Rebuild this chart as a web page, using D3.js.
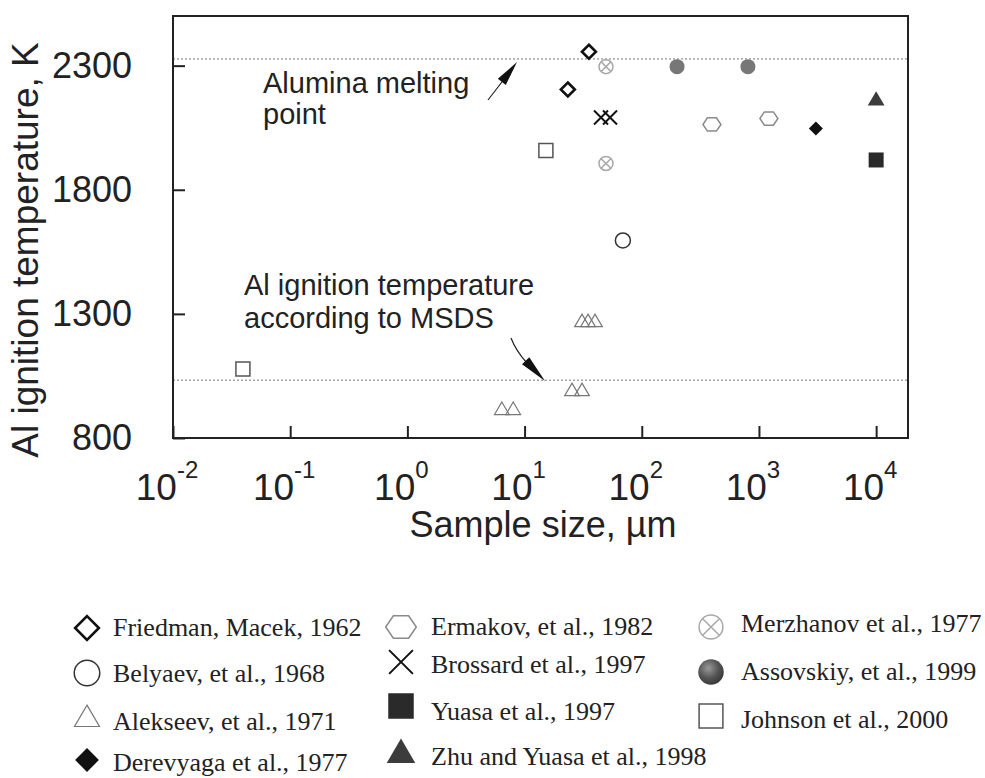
<!DOCTYPE html>
<html>
<head>
<meta charset="utf-8">
<script src="https://cdn.jsdelivr.net/npm/d3@7"></script>
<style>
  html, body { margin: 0; padding: 0; background: #fff; }
  svg { display: block; }
</style>
</head>
<body>
<svg id="chart" width="985" height="778"></svg>
<script>
// ---- data ----
const xTicks = [0.01, 0.1, 1, 10, 100, 1000, 10000];
const xTickExp = ["-2", "-1", "0", "1", "2", "3", "4"];
const yTicks = [800, 1300, 1800, 2300];

const aluminaMelting = 2327;   // K, upper dotted line
const msdsIgnition = 1033;     // K, lower dotted line

const friedmanSize = [35.4, 23.4],        friedmanTemp = [2356, 2204];
const belyaevSize = [69],                 belyaevTemp = [1596];
const alekseevSize = [6.4, 8.0, 25.4, 30.9, 30.9, 34.8, 39.9];
const alekseevTemp = [917, 917, 993, 993, 1271, 1271, 1271];
const derevyagaSize = [3060],             derevyagaTemp = [2047];
const ermakovSize = [397, 1216],          ermakovTemp = [2063, 2087];
const brossardSize = [44.9, 53.6],        brossardTemp = [2091, 2091];
const yuasaSize = [10000],                yuasaTemp = [1920];
const zhuSize = [10000],                  zhuTemp = [2165];
const merzhanovSize = [49.5, 49.5],       merzhanovTemp = [2296, 1906];
const assovskiySize = [200, 805],         assovskiyTemp = [2296, 2296];
const johnsonSize = [0.0395, 15.2],       johnsonTemp = [1078, 1958];

const seriesNames = [
  "Friedman, Macek, 1962", "Belyaev, et al., 1968", "Alekseev, et al., 1971",
  "Derevyaga et al., 1977", "Ermakov, et al., 1982", "Brossard et al., 1997",
  "Yuasa et al., 1997", "Zhu and Yuasa et al., 1998", "Merzhanov et al., 1977",
  "Assovskiy, et al., 1999", "Johnson et al., 2000"
];
const seriesSizes = [friedmanSize, belyaevSize, alekseevSize, derevyagaSize, ermakovSize,
  brossardSize, yuasaSize, zhuSize, merzhanovSize, assovskiySize, johnsonSize];
const seriesTemps = [friedmanTemp, belyaevTemp, alekseevTemp, derevyagaTemp, ermakovTemp,
  brossardTemp, yuasaTemp, zhuTemp, merzhanovTemp, assovskiyTemp, johnsonTemp];

// ---- styles ----
const styles = [
  { shape: "diamond",  s: 7,   fill: "none",    stroke: "#111", sw: 2.6 },
  { shape: "circle",   s: 7.5, fill: "none",    stroke: "#333", sw: 1.5 },
  { shape: "triangle", s: 7,   fill: "none",    stroke: "#777", sw: 1.2 },
  { shape: "diamond",  s: 7,   fill: "#111",    stroke: "none", sw: 0 },
  { shape: "hexagon",  s: 9,   fill: "none",    stroke: "#8a8a8a", sw: 1.5 },
  { shape: "cross",    s: 7,   fill: "none",    stroke: "#111", sw: 2 },
  { shape: "square",   s: 7.5, fill: "#2a2a2a", stroke: "none", sw: 0 },
  { shape: "triangle", s: 8,   fill: "#3c3c3c", stroke: "none", sw: 0 },
  { shape: "otimes",   s: 7,   fill: "none",    stroke: "#a8a8a8", sw: 1.5 },
  { shape: "circle",   s: 7.5, fill: "#777",    stroke: "none", sw: 0 },
  { shape: "square",   s: 7,   fill: "none",    stroke: "#555", sw: 1.5 }
];

// legend layout: [column, row]
const legendCell = [[0,0],[0,1],[0,2],[0,3],[1,0],[1,1],[1,2],[1,3],[2,0],[2,1],[2,2]];
const legendColX = [{ m: 87, t: 113 }, { m: 401, t: 431 }, { m: 711, t: 741 }];
const legendRowY = [[628, 673, 717, 760], [627, 662, 706, 752], [627, 672, 716]];
const legendBase = [[636, 682, 730, 771], [635, 673, 720, 765], [632, 680, 728]];

// ---- layout ----
const plotL = 173, plotR = 908, plotT = 16, plotB = 438;
const svg = d3.select("#chart");

const x = d3.scaleLog().domain([0.01, 18700]).range([plotL, plotR]);
const y = d3.scaleLinear().domain([800, 2500]).range([plotB, plotT]);

const defs = svg.append("defs");
const grad = defs.append("radialGradient").attr("id", "ball")
  .attr("cx", "40%").attr("cy", "35%").attr("r", "65%");
grad.append("stop").attr("offset", "0%").attr("stop-color", "#9a9a9a");
grad.append("stop").attr("offset", "60%").attr("stop-color", "#555");
grad.append("stop").attr("offset", "100%").attr("stop-color", "#3a3a3a");

function shapePath(shape, s) {
  if (shape === "diamond") return `M0,${-s}L${s},0L0,${s}L${-s},0Z`;
  if (shape === "square") return `M${-s},${-s}H${s}V${s}H${-s}Z`;
  if (shape === "triangle") return `M0,${-s}L${s * 1.05},${s * 0.8}L${-s * 1.05},${s * 0.8}Z`;
  if (shape === "cross") return `M${-s},${-s}L${s},${s}M${s},${-s}L${-s},${s}`;
  if (shape === "hexagon") {
    const p = d3.path();
    d3.range(6).forEach(i => {
      const a = i * Math.PI / 3;
      const px = s * Math.cos(a), py = s * 0.85 * Math.sin(a);
      i === 0 ? p.moveTo(px, py) : p.lineTo(px, py);
    });
    p.closePath();
    return p.toString();
  }
  if (shape === "otimes") {
    const k = s * 0.72;
    return `M${-k},${-k}L${k},${k}M${k},${-k}L${-k},${k}`;
  }
  return null;
}

function drawMarker(g, st, scale, fillOverride) {
  const s = st.s * scale;
  const fill = fillOverride || st.fill;
  if (st.shape === "circle" || st.shape === "otimes") {
    g.append("circle").attr("r", s)
      .attr("fill", fill).attr("stroke", st.stroke).attr("stroke-width", st.sw);
  }
  const d = shapePath(st.shape, s);
  if (d) {
    g.append("path").attr("d", d)
      .attr("fill", fill).attr("stroke", st.stroke)
      .attr("stroke-width", st.sw).attr("stroke-linejoin", "miter");
  }
}

// reference lines
svg.append("g").selectAll("line")
  .data([aluminaMelting, msdsIgnition])
  .join("line")
  .attr("x1", plotL).attr("x2", plotR)
  .attr("y1", d => y(d)).attr("y2", d => y(d))
  .attr("stroke", "#777").attr("stroke-width", 1)
  .attr("stroke-dasharray", "2,2");

// axes (ticks only, inward)
const yAxis = svg.append("g").attr("transform", `translate(${plotL},0)`)
  .call(d3.axisLeft(y).tickValues(yTicks).tickFormat(d3.format("d"))
    .tickSizeInner(-12).tickSizeOuter(0).tickPadding(41));
yAxis.select(".domain").remove();
yAxis.selectAll("line").attr("stroke", "#222").attr("stroke-width", 2);
yAxis.selectAll("text")
  .attr("font-family", "'Liberation Sans', Arial, sans-serif")
  .attr("font-size", 36).attr("fill", "#222");

const xAxis = svg.append("g").attr("transform", `translate(0,${plotB})`)
  .call(d3.axisBottom(x).tickValues(xTicks).tickSizeInner(-12).tickSizeOuter(0).tickFormat(""));
xAxis.select(".domain").remove();
xAxis.selectAll("line").attr("stroke", "#222").attr("stroke-width", 2);

const xLab = svg.append("g")
  .attr("font-family", "'Liberation Sans', Arial, sans-serif").attr("fill", "#222");
xTicks.forEach((t, i) => {
  const txt = xLab.append("text").attr("x", x(t) - 6).attr("y", 500)
    .attr("text-anchor", "middle").attr("font-size", 37);
  txt.append("tspan").text("10");
  txt.append("tspan").attr("font-size", 24).attr("dy", -22).text(xTickExp[i]);
});

// frame
svg.append("rect")
  .attr("x", plotL).attr("y", plotT)
  .attr("width", plotR - plotL).attr("height", plotB - plotT)
  .attr("fill", "none").attr("stroke", "#222").attr("stroke-width", 2);

// axis titles
svg.append("text")
  .attr("transform", "translate(38,250) rotate(-90)")
  .attr("text-anchor", "middle")
  .attr("font-family", "'Liberation Sans', Arial, sans-serif")
  .attr("font-size", 37).attr("fill", "#222")
  .text("Al ignition temperature, K");

svg.append("text")
  .attr("x", 543).attr("y", 537)
  .attr("text-anchor", "middle")
  .attr("font-family", "'Liberation Sans', Arial, sans-serif")
  .attr("font-size", 36).attr("fill", "#222")
  .text("Sample size, \u00b5m");

// annotations
const ann = svg.append("g")
  .attr("font-family", "'Liberation Sans', Arial, sans-serif")
  .attr("font-size", 29).attr("fill", "#222");
ann.append("text").attr("x", 263).attr("y", 93).text("Alumina melting");
ann.append("text").attr("x", 263).attr("y", 124).text("point");
ann.append("text").attr("x", 244).attr("y", 295).text("Al ignition temperature");
ann.append("text").attr("x", 244).attr("y", 328).text("according to MSDS");

function arrowHead(tx, ty, fx, fy, len, w) {
  const dx = tx - fx, dy = ty - fy, L = Math.hypot(dx, dy);
  const ux = dx / L, uy = dy / L;
  const bx = tx - ux * len, by = ty - uy * len;
  return `M${tx},${ty}L${bx - uy * w},${by + ux * w}L${bx + uy * w},${by - ux * w}Z`;
}
ann.append("line").attr("x1", 488).attr("y1", 100).attr("x2", 505).attr("y2", 78)
  .attr("stroke", "#222").attr("stroke-width", 1.2);
ann.append("path").attr("d", arrowHead(517, 62, 488, 100, 25, 5)).attr("fill", "#111");

ann.append("path").attr("d", "M511,338Q516,351 527,363")
  .attr("fill", "none").attr("stroke", "#222").attr("stroke-width", 1.2);
ann.append("path").attr("d", arrowHead(545, 381, 523, 358, 28, 5)).attr("fill", "#111");

// data points
const pts = svg.append("g");
seriesNames.forEach((name, i) => {
  seriesSizes[i].forEach((sz, j) => {
    const g = pts.append("g")
      .attr("transform", `translate(${x(sz)},${y(seriesTemps[i][j])})`);
    drawMarker(g, styles[i], 1);
  });
});

// legend
const leg = svg.append("g");
seriesNames.forEach((name, i) => {
  const [c, r] = legendCell[i];
  const g = leg.append("g")
    .attr("transform", `translate(${legendColX[c].m},${legendRowY[c][r]})`);
  drawMarker(g, styles[i], 1.7, name.startsWith("Assovskiy") ? "url(#ball)" : null);
  leg.append("text")
    .attr("x", legendColX[c].t).attr("y", legendBase[c][r])
    .attr("font-family", "'Liberation Serif', 'Times New Roman', serif")
    .attr("font-size", 26).attr("fill", "#222")
    .text(name);
});
</script>
</body>
</html>
